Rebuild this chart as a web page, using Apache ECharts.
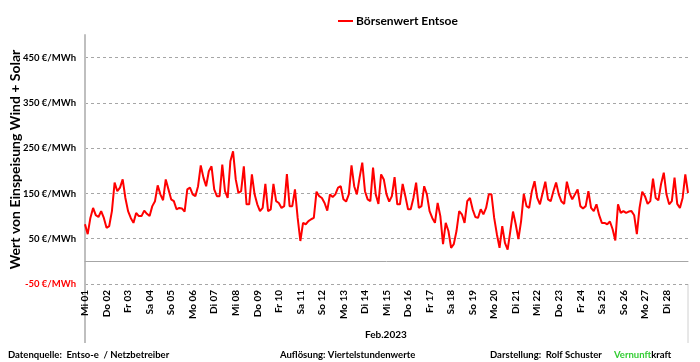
<!DOCTYPE html>
<html>
<head>
<meta charset="utf-8">
<script src="https://cdn.jsdelivr.net/npm/echarts@6/dist/echarts.min.js"></script>
<style>html,body{margin:0;padding:0;background:#fff}#c{width:700px;height:362px}</style>
</head>
<body>
<div id="c"></div>
<script>
// Day labels (Feb 2023)
const dayLabels = ["Mi 01","Do 02","Fr 03","Sa 04","So 05","Mo 06","Di 07","Mi 08","Do 09","Fr 10","Sa 11","So 12","Mo 13","Di 14","Mi 15","Do 16","Fr 17","Sa 18","So 19","Mo 20","Di 21","Mi 22","Do 23","Fr 24","Sa 25","So 26","Mo 27","Di 28"];
// Börsenwert Entsoe, €/MWh, 3-hourly readings
const week1 = [82,60,96,118,102,98,111,96, 74,78,111,174,155,163,181,140, 111,96,85,107,100,100,112,105, 100,122,133,168,148,135,181,159, 137,133,115,118,117,110,159,163, 148,144,166,212,185,166,199,210, 159,144,144,214,155,140,221,243];
const week2 = [181,151,155,210,126,126,192,148, 126,111,118,171,111,115,171,133, 129,118,122,193,122,122,159,96, 45,85,82,89,93,96,154,144, 140,129,112,148,142,148,163,166, 137,132,148,212,166,148,185,218, 155,137,133,207,148,127,192,181];
const week3 = [148,132,144,186,126,126,171,144, 115,115,140,174,118,122,166,148, 111,96,85,129,100,38,85,67, 30,38,67,111,104,85,133,140, 115,98,96,115,104,118,148,148, 96,60,30,78,41,26,67,110, 82,49,89,149,122,118,155,177];
const week4 = [140,126,151,176,137,133,155,174, 148,132,127,176,151,137,148,159, 122,117,122,155,118,111,126,102, 85,85,82,88,71,46,126,107, 111,107,110,111,102,60,118,154, 144,127,133,183,140,135,171,196, 148,126,133,185,127,118,140,192];
const endValue = [151];
const yTicks = [-50,50,150,250,350,450];

const values = week1.concat(week2, week3, week4, endValue);
const stepsPerDay = 8;
const seriesData = values.map((v, i) => [i / stepsPerDay, v]);

const FONT = 'Lato';
const chart = echarts.init(document.getElementById('c'), null, {renderer: 'canvas'});
chart.setOption({
  animation: false,
  textStyle: {fontFamily: FONT},
  legend: {
    top: 10, left: 333,
    icon: 'rect', itemWidth: 15, itemHeight: 2, itemGap: 4,
    textStyle: {fontFamily: FONT, fontWeight: 'bold', fontSize: 12, color: '#000', padding: [0, 0, 0, -2]},
    data: ['Börsenwert Entsoe']
  },
  grid: {left: 85, right: 12, top: 35, bottom: 78, containLabel: false, outerBoundsMode: 'none'},
  xAxis: [{
    type: 'value', min: 0, max: 28, interval: 1,
    axisLine: {onZero: false, show: false},
    axisTick: {show: false},
    splitLine: {show: false},
    axisLabel: {
      rotate: 90, margin: 6, fontFamily: FONT, fontWeight: 'bold', fontSize: 10, color: '#000',
      formatter: v => (v < dayLabels.length ? dayLabels[v] : '')
    }
  }, {
    type: 'value', min: 0, max: 28, position: 'bottom',
    axisLine: {onZero: true, show: true, lineStyle: {color: '#a6a6a6', width: 1}},
    axisTick: {show: false}, axisLabel: {show: false}, splitLine: {show: false}
  }],
  yAxis: {
    type: 'value', min: -50, max: 500, interval: 100,
    name: 'Wert von Einspeisung Wind + Solar',
    nameLocation: 'middle', nameGap: 63, nameMoveOverlap: false,
    nameTextStyle: {fontFamily: FONT, fontWeight: 'bold', fontSize: 14, color: '#000'},
    axisLine: {show: true, lineStyle: {color: '#bfbfbf', width: 2}},
    axisTick: {show: false},
    splitLine: {show: true, showMaxLine: false, lineStyle: {color: '#a6a6a6', type: [3, 3], width: 1}},
    axisLabel: {
      fontFamily: FONT, fontWeight: 'bold', fontSize: 9.5, margin: 9,
      formatter: v => (yTicks.indexOf(v) >= 0 ? v + ' €/MWh' : ''),
      color: v => (v < 0 ? '#ff0000' : '#000')
    }
  },
  series: [{
    name: 'Börsenwert Entsoe', type: 'line', xAxisIndex: 0,
    data: seriesData, showSymbol: false, symbol: 'none',
    lineStyle: {color: '#ff0000', width: 2}, itemStyle: {color: '#ff0000'}
  }],
  graphic: [
    {type: 'line', shape: {x1: 85, y1: 284, x2: 85, y2: 343}, style: {stroke: '#bfbfbf', lineWidth: 2}},
    {type: 'line', shape: {x1: 688, y1: 284, x2: 688, y2: 343}, style: {stroke: '#d0d0d0', lineWidth: 1}},
    {type: 'text', left: 365, top: 330, style: {text: 'Feb.2023', font: 'bold 10px Lato', fill: '#000'}},
    {type: 'text', left: 8, top: 350, style: {text: 'Datenquelle:  Entso-e  / Netzbetreiber', font: 'bold 9.5px Lato', fill: '#000'}},
    {type: 'text', left: 280, top: 350, style: {text: 'Auflösung: Viertelstundenwerte', font: 'bold 9.5px Lato', fill: '#000'}},
    {type: 'text', left: 490, top: 350, style: {text: 'Darstellung:  Rolf Schuster', font: 'bold 9.5px Lato', fill: '#000'}},
    {type: 'text', left: 614, top: 350, style: {rich: {g: {fill: '#33cc33', font: 'bold 9.5px Lato'}, k: {fill: '#000', font: 'bold 9.5px Lato'}}, text: '{g|Vernunft}{k|kraft}'}}
  ]
});
</script>
</body>
</html>
